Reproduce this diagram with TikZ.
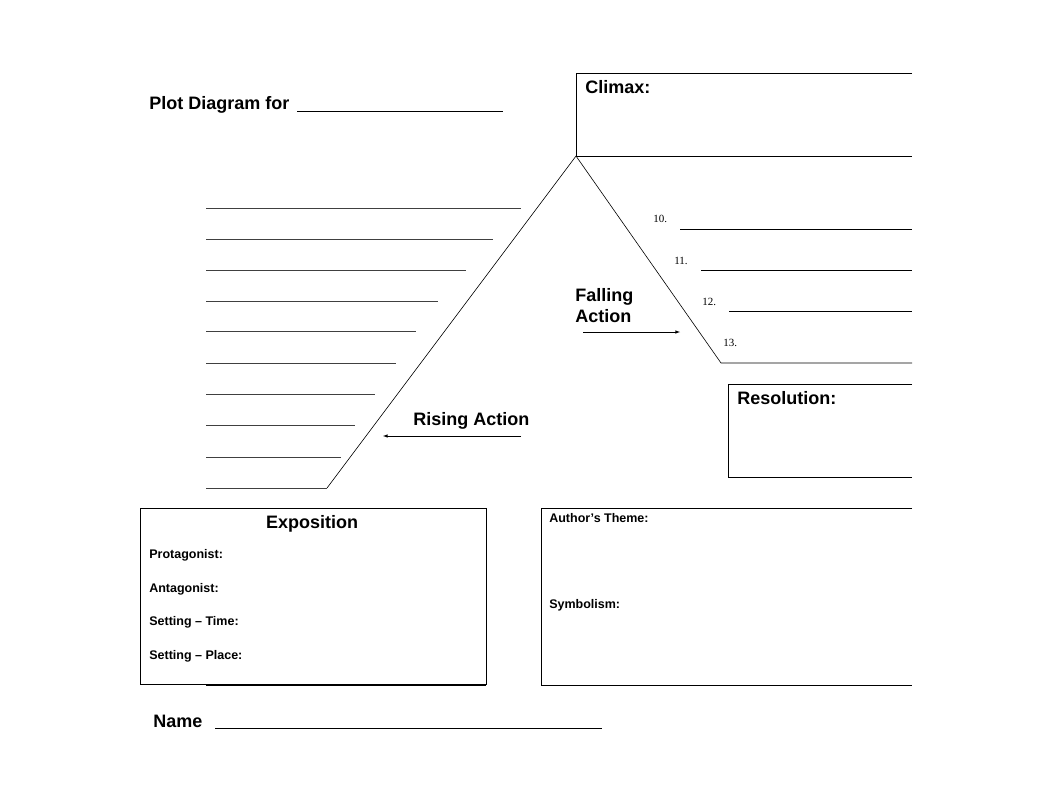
\documentclass[tikz,border=0pt]{standalone}
\usepackage{fontspec}
\setmainfont{Liberation Sans}
\newfontfamily\numfont{Liberation Serif}
\begin{document}
\begin{tikzpicture}[x=1pt,y=-1pt,line width=0.6pt,
    head/.style={anchor=base west,inner sep=0pt,font=\fontsize{18}{20}\selectfont\bfseries},
    field/.style={anchor=base west,inner sep=0pt,font=\fontsize{12.5}{14}\selectfont\bfseries},
    num/.style={anchor=base west,inner sep=0pt,font=\numfont\fontsize{11}{12}\selectfont},
    rule/.style={draw=black!75,line width=0.8pt}]
            \useasboundingbox (0,0) rectangle (1061,800);
            % title
            \node[head] (title) at (149,109.5) {Plot Diagram for};
            \draw (297,111) -- (503,111);
            % climax
            \coordinate (top) at (576,156);
            \coordinate (foot) at (327,488);
            \coordinate (knee) at (721,363);
            \draw (912,73) -- (576,73) -- (top) -- (912,156);
            \node[head] (climax) at (585,93) {Climax:};
            \draw (foot) -- (top) -- (knee) -- (912,363);
            % rising action lines
            \foreach \y/\xe in {208/521,239/493,270/466,301/438,331/416,363/396,394/375,425/355,457/341}
                \draw[rule] (206,\y) -- (\xe,\y);
            \draw[rule] (206,488) -- (foot);
            % falling action lines
            \node[num] (n10) at (653,222.5) {10.};
            \node[num] (n11) at (674,264.5) {11.};
            \node[num] (n12) at (702,305.5) {12.};
            \node[num] (n13) at (723,346.5) {13.};
            \draw (680,229) -- (912,229);
            \draw (701,270) -- (912,270);
            \draw (729,311) -- (912,311);
            % labels and arrows
            \node[head] (fall) at (575,301) {Falling};
            \node[head] (fall2) at (575,322) {Action};
            \coordinate (fa1) at (583,332);
            \coordinate (fa2) at (680,332);
            \draw[-latex] (fa1) -- (fa2);
            \node[head] (rise) at (413,425) {Rising Action};
            \coordinate (ra1) at (521,436);
            \coordinate (ra2) at (383,436);
            \draw[-latex] (ra1) -- (ra2);
            % resolution
            \draw (912,384) -- (728,384) -- (728,477) -- (912,477);
            \node[head] (res) at (737,404) {Resolution:};
            % exposition
            \draw (140,508) rectangle (486,684);
            \draw[line width=1.2pt] (206,685) -- (486,685);
            \node[head,anchor=base] (expo) at (312,528) {Exposition};
            \node[field] (prot) at (149,558.5) {Protagonist:};
            \node[field] (anta) at (149,592.5) {Antagonist:};
            \node[field] (time) at (149,625.5) {Setting -- Time:};
            \node[field] (place) at (149,659.5) {Setting -- Place:};
            % theme
            \draw (912,508) -- (541,508) -- (541,685) -- (912,685);
            \node[field] (theme) at (549,522.5) {Author's Theme:};
            \node[field] (symb) at (549,608.5) {Symbolism:};
            % name
            \node[head] (name) at (153,727.5) {Name};
            \draw (215,728) -- (602,728);
        \end{tikzpicture}
\end{document}
